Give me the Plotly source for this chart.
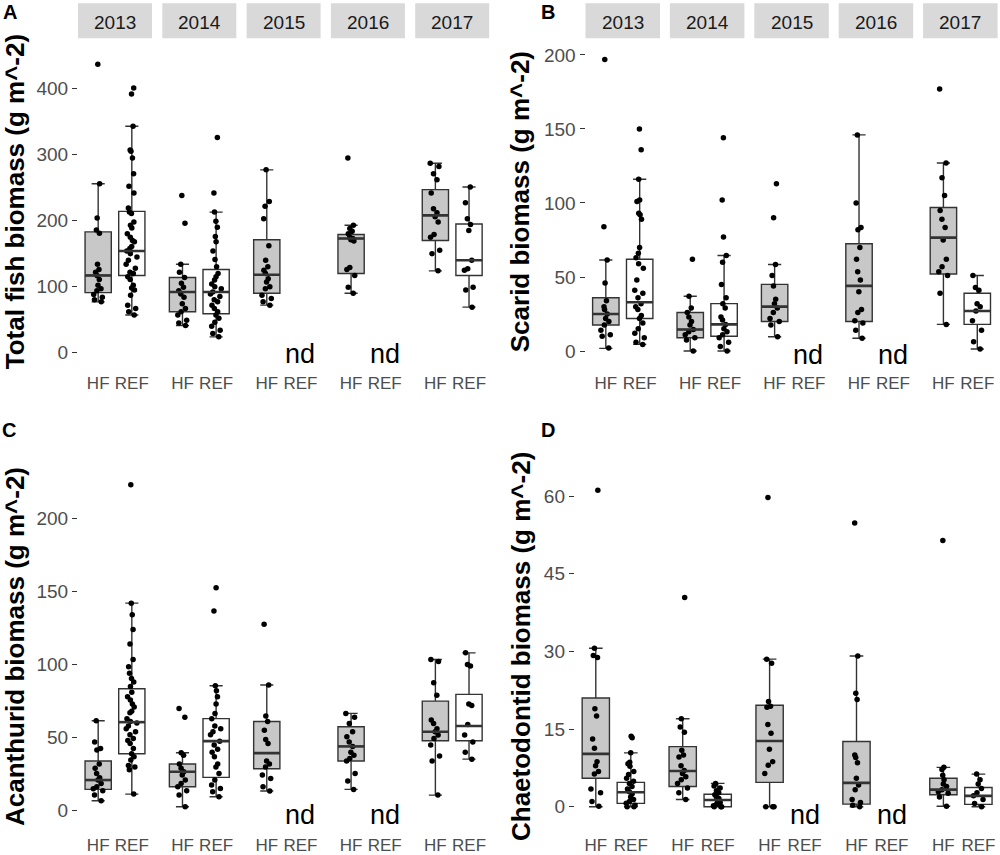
import plotly.graph_objects as go

years = ['2013', '2014', '2015', '2016', '2017']

# ---- A: total fish biomass (g m^-2) ----
total_hf_pts = [
    [436, 255, 203, 185, 180, 133, 125, 121, 116, 110, 101, 96, 93, 87, 83, 79, 76],
    [237, 195, 133, 121, 113, 104, 98, 93, 88, 83, 73, 66, 61, 56, 48, 44, 40],
    [276, 228, 221, 202, 161, 139, 129, 124, 119, 111, 106, 99, 96, 86, 81, 76, 71],
    [294, 192, 187, 183, 179, 174, 172, 170, 168, 128, 125, 116, 98, 89],
    [286, 281, 270, 261, 241, 217, 211, 205, 197, 178, 174, 154, 149, 123],
]
total_ref_pts = [
    [400, 391, 342, 306, 304, 294, 270, 251, 241, 218, 212, 210, 197, 192, 188, 179, 174,
     169, 167, 160, 157, 153, 149, 144, 139, 133, 127, 121, 119, 114, 110, 101, 97, 94,
     86, 71, 66, 61, 56],
    [325, 241, 212, 198, 189, 175, 167, 153, 140, 129, 119, 114, 109, 103, 99, 96, 91, 88,
     84, 79, 76, 71, 66, 61, 56, 51, 45, 39, 33, 28, 23],
    [],
    [],
    [250, 226, 202, 193, 184, 139, 126, 124, 98, 94, 68],
]
# box stats per year: (q1, median, q3, lower whisker, upper whisker)
total_hf_box = [(90, 116, 182, 76, 255), (61, 91, 113, 40, 133), (89, 117, 170, 71, 276),
                (119, 172, 178, 89, 192), (169, 207, 246, 123, 286)]
total_ref_box = [(116, 153, 213, 56, 342), (58, 91, 125, 23, 212), None, None,
                 (116, 139, 194, 68, 250)]

# ---- B: scarid biomass ----
scarid_hf_pts = [
    [197, 84, 61.5, 46, 34, 30, 28, 25, 22, 20, 17.6, 14, 11, 10, 2],
    [62, 37, 29, 26, 23, 20, 17.6, 14.6, 13, 11, 9, 7.4, 0],
    [113, 90, 58.5, 51, 44, 35, 32, 29, 26, 22, 20, 17.6, 9.7],
    [146, 100, 83.5, 82, 70, 62, 53.6, 48, 40, 28, 26, 20.5, 19, 14, 8.6],
    [177, 127, 117, 105, 95, 89, 83.5, 75, 62, 57, 53.6, 51, 39, 18],
]
scarid_ref_pts = [
    [150, 136, 116, 102, 101, 93, 92, 89, 70, 66, 63, 59, 56, 48, 41, 39, 36, 32, 30, 28,
     24, 22, 19, 15, 12, 9, 6, 4.5],
    [144, 102, 77, 64.5, 60, 45, 36, 32, 29, 23, 21, 18, 15, 13, 11, 9, 6, 3, 0],
    [],
    [],
    [51, 43, 41, 32, 30, 27, 20.5, 14, 6.3, 1.4],
]
scarid_hf_box = [(17.6, 25, 36, 1.8, 61.5), (9, 14.6, 26, 0, 37), (20, 30, 45, 9.7, 58.5),
                 (20, 44, 72.5, 8.6, 146), (52, 76.6, 97, 18, 127)]
scarid_ref_box = [(22, 33, 62, 4.5, 116), (10, 18, 32, 0, 64.5), None, None,
                  (18, 27, 39, 1.4, 51)]

# ---- C: acanthurid biomass ----
acan_hf_pts = [
    [61.6, 47, 42.6, 41.5, 32, 29, 25.5, 22.5, 21, 18.7, 16.4, 15, 13.7, 10.7, 6.8],
    [70, 64, 39.7, 38, 32, 29, 26.7, 24.4, 21, 18.7, 16.4, 13.7, 10.7, 2.7],
    [127.5, 86, 64.8, 61, 55, 48.8, 46, 34, 32, 30, 24.4, 22, 16.4, 13.5],
    [66.6, 64, 59.7, 54, 50.6, 47, 44, 40, 38, 35.8, 34, 25.5, 20.3, 14.6],
    [103.5, 102, 87.6, 79, 62, 59.7, 56, 54, 51.8, 49.5, 45, 37.4, 34, 10.7],
]
acan_ref_pts = [
    [223, 142, 134, 124, 114, 103.5, 98.5, 94, 90.5, 88, 85, 81, 78, 75.7, 73, 71, 68, 67,
     63, 61, 60, 58, 56, 54, 52, 49.5, 48, 46, 42.6, 39, 37, 34.7, 31, 30, 28, 11.4],
    [152.5, 136.6, 85.5, 82, 78, 73, 66.6, 63, 58, 56, 54, 52, 47.6, 45, 42, 40, 37, 32,
     30, 25.5, 21, 17.6, 15.3, 13, 9.6],
    [],
    [],
    [108, 100, 99, 73, 72, 59, 51.8, 47, 40, 35.3],
]
acan_hf_box = [(14.6, 21, 34, 6.8, 61.6), (16.4, 26.7, 32, 2.7, 39.7), (28.7, 39.4, 61, 13.5, 86),
               (34, 44, 57.5, 14.6, 66.6), (47.9, 54, 75, 10.7, 103.5)]
acan_ref_box = [(39, 60.6, 83.4, 11.4, 142), (22.8, 47.6, 63, 9.6, 85.5), None, None,
                (47.9, 58, 79.6, 35.3, 108)]

# ---- D: chaetodontid biomass ----
chaet_hf_pts = [
    [61.1, 30.6, 29.2, 28.8, 18.9, 17.5, 13.1, 11.3, 8.7, 7.9, 6.8, 6.3, 3.4, 2.7, 1, 0.1],
    [40.4, 17, 15.4, 14.4, 10.9, 10, 9.6, 7.9, 7, 6.4, 5.8, 5.2, 4.5, 3.6, 2.7, 1.4],
    [59.7, 28.5, 27.7, 20.3, 19.4, 19.2, 15.9, 14.2, 11.1, 8.7, 8, 6.4, 0, 0, 0],
    [54.8, 29.1, 21.9, 20.7, 10, 9.5, 8.5, 5.5, 4.2, 3.3, 1.4, 0.8, 0.3, 0],
    [51.4, 7.6, 7.2, 6.1, 5.2, 4.4, 3.9, 3.3, 2.9, 2.6, 1.9, 0.1],
]
chaet_ref_pts = [
    [13.6, 13.3, 10.4, 8.6, 8.3, 7.8, 6.8, 6.2, 5.5, 4.9, 4.5, 3.9, 3.4, 2.9, 2.5, 1.9,
     1.4, 1, 0.65, 0.3, 0, 0],
    [4.5, 4, 3.6, 3.1, 2.7, 2.3, 1.9, 1.6, 1.2, 0.8, 0.5, 0.2, 0, 0, 0],
    [],
    [],
    [6.3, 5.2, 4.4, 3.5, 2.7, 2.1, 1.4, 0.6, 0],
]
chaet_hf_box = [(5.5, 10.2, 21, 0, 30.6), (3.9, 6.9, 11.6, 1.4, 17), (4.7, 12.7, 19.6, 0, 28.5),
                (0.5, 4.6, 12.6, 0, 29.1), (2.3, 3.3, 5.5, 0.1, 7.6)]
chaet_ref_box = [(0.65, 2.8, 4.7, 0, 10.4), (0, 1.3, 2.4, 0, 4.5), None, None,
                 (0.45, 2.1, 3.7, 0, 6.3)]

W, H = 1000, 855
FONT = 'Liberation Sans, Arial, sans-serif'
LINE = '#333333'
HF_FILL = '#c8c8c8'
BOX_W = 0.78


def fx(px):
    return px / W


def fy(px):
    return 1 - px / H


panels = [
    dict(letter='A', letter_xy=(10, 12), title='Total fish biomass (g m^-2)', title_x=15,
         hf=(total_hf_pts, total_hf_box), ref=(total_ref_pts, total_ref_box),
         yrange=[-21.2, 475], ticks=[0, 100, 200, 300, 400],
         x0=78, step=84.3, w=74, top=38.5, bottom=366, strip=True, nd_y=354),
    dict(letter='B', letter_xy=(548, 12), title='Scarid biomass (g m^-2)', title_x=520,
         hf=(scarid_hf_pts, scarid_hf_box), ref=(scarid_ref_pts, scarid_ref_box),
         yrange=[-10.1, 211.1], ticks=[0, 50, 100, 150, 200],
         x0=585.5, step=84.4, w=74.5, top=38.5, bottom=366, strip=True, nd_y=355),
    dict(letter='C', letter_xy=(9, 430), title='Acanthurid biomass (g m^-2)', title_x=15,
         hf=(acan_hf_pts, acan_hf_box), ref=(acan_ref_pts, acan_ref_box),
         yrange=[-11.8, 235.8], ticks=[0, 50, 100, 150, 200],
         x0=78, step=84.3, w=74, top=466, bottom=828, strip=False, nd_y=815),
    dict(letter='D', letter_xy=(548, 430), title='Chaetodontid biomass (g m^-2)', title_x=521,
         hf=(chaet_hf_pts, chaet_hf_box), ref=(chaet_ref_pts, chaet_ref_box),
         yrange=[-4.11, 65.8], ticks=[0, 15, 30, 45, 60],
         x0=574.8, step=86.9, w=77, top=466, bottom=828, strip=False, nd_y=815),
]

fig = go.Figure()
layout = {}
shapes = []
annotations = []

n = 0
for p in panels:
    for k, yr in enumerate(years):
        n += 1
        xa = 'x' if n == 1 else f'x{n}'
        ya = 'y' if n == 1 else f'y{n}'
        for site_i, ((pts_all, box_all), fill) in enumerate([(p['hf'], HF_FILL), (p['ref'], 'white')]):
            stats = box_all[k]
            if stats is None:
                continue
            q1, med, q3, lo, hi = stats
            fig.add_trace(go.Box(
                x=[site_i], q1=[q1], median=[med], q3=[q3], lowerfence=[lo], upperfence=[hi],
                orientation='v', width=BOX_W, fillcolor=fill, boxpoints=False,
                line=dict(color=LINE, width=1.4), xaxis=xa, yaxis=ya,
                showlegend=False, hoverinfo='skip'))
            # thicker median bar as in ggplot
            fig.add_trace(go.Scatter(
                x=[site_i - BOX_W / 2, site_i + BOX_W / 2], y=[med, med], mode='lines',
                line=dict(color=LINE, width=2.6), xaxis=xa, yaxis=ya,
                showlegend=False, hoverinfo='skip'))
            pts = pts_all[k]
            fig.add_trace(go.Box(
                x=[site_i] * len(pts), y=pts, boxpoints='all', jitter=0.45, pointpos=0,
                width=BOX_W, fillcolor='rgba(0,0,0,0)',
                line=dict(color='rgba(0,0,0,0)', width=0),
                marker=dict(color='black', size=5.5), xaxis=xa, yaxis=ya,
                showlegend=False))

        left = p['x0'] + k * p['step']
        layout['xaxis' if n == 1 else f'xaxis{n}'] = dict(
            domain=[fx(left), fx(left + p['w'])], anchor=ya, range=[-0.6, 1.6],
            tickvals=[0, 1], ticktext=['HF', 'REF'], ticks='', showgrid=False,
            zeroline=False, showline=False, ticklabelstandoff=5,
            tickfont=dict(family=FONT, size=17, color='#4d4d4d'))
        first = k == 0
        layout['yaxis' if n == 1 else f'yaxis{n}'] = dict(
            domain=[fy(p['bottom']), fy(p['top'])], anchor=xa, range=p['yrange'],
            tickvals=p['ticks'], showticklabels=first, ticks='outside' if first else '',
            ticklen=5, tickwidth=1, tickcolor=LINE, showgrid=False, zeroline=False,
            showline=False, tickfont=dict(family=FONT, size=19, color='#4d4d4d'))

        if p['strip']:
            shapes.append(dict(type='rect', xref=f'{xa} domain', yref='paper',
                               x0=0, x1=1, y0=fy(38.3), y1=fy(3.3),
                               fillcolor='#d9d9d9', line=dict(width=0), layer='below'))
            annotations.append(dict(text=yr, xref=f'{xa} domain', yref='paper',
                                    x=0.5, y=fy(22), showarrow=False,
                                    xanchor='center', yanchor='middle',
                                    font=dict(family=FONT, size=19, color='#1a1a1a')))
        if p['ref'][1][k] is None:
            annotations.append(dict(text='nd', xref=xa, yref='paper', x=1, y=fy(p['nd_y']),
                                    showarrow=False, xanchor='center', yanchor='middle',
                                    font=dict(family=FONT, size=27, color='black')))

    annotations.append(dict(text=f"<b>{p['title']}</b>", xref='paper', yref='paper',
                            x=fx(p['title_x']), y=fy((p['top'] + p['bottom']) / 2),
                            textangle=-90, showarrow=False, xanchor='center', yanchor='middle',
                            font=dict(family=FONT, size=26, color='black')))
    lx, ly = p['letter_xy']
    annotations.append(dict(text=f"<b>{p['letter']}</b>", xref='paper', yref='paper',
                            x=fx(lx), y=fy(ly), showarrow=False, xanchor='center',
                            yanchor='middle', font=dict(family=FONT, size=20, color='black')))

fig.update_layout(
    width=W, height=H,
    margin=dict(l=0, r=0, t=0, b=0),
    paper_bgcolor='white', plot_bgcolor='white',
    boxmode='overlay',
    showlegend=False,
    shapes=shapes,
    annotations=annotations,
    font=dict(family=FONT),
    **layout,
)

# drop the default page margin so the 1000x855 figure fills the window exactly
fig.write_html("out.html", config={'displayModeBar': False},
               post_script="document.body.style.margin='0';")
